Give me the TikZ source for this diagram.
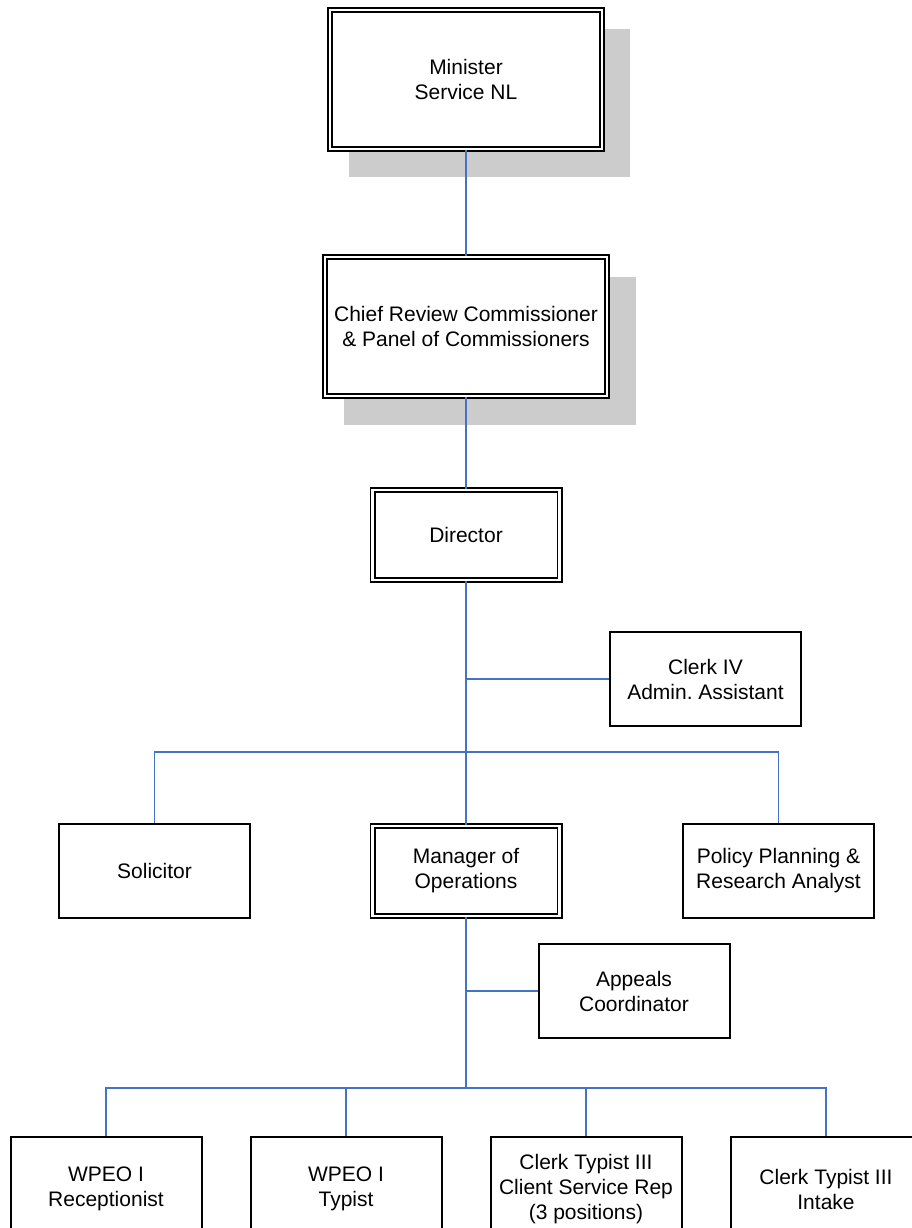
\documentclass[tikz,border=0pt]{standalone}
\usepackage{fontspec}
\setmainfont{Liberation Sans}
\usetikzlibrary{backgrounds}
\definecolor{conn}{HTML}{4472C4}
\definecolor{shadowgray}{HTML}{CCCCCC}
\frenchspacing
\begin{document}
\begin{tikzpicture}[x=1pt,y=-1pt,
  every node/.style={font=\fontsize{21}{25}\selectfont, align=center, inner sep=0pt},
  sbox/.style={draw=black, line width=2pt, fill=white, minimum width=191pt, minimum height=94pt},
  lowbox/.style={sbox, minimum height=104pt},
  dbox/.style={draw=black, line width=1.75pt, double=white, double distance=2.5pt, fill=white},
  link/.style={draw=conn, line width=1.5pt}]
\clip (0,0) rectangle (912,1228);
\useasboundingbox (0,0) rectangle (912,1228);

\node[dbox, minimum width=272pt, minimum height=139pt] (min) at (466,79.5) {Minister\\Service NL};
\node[dbox, minimum width=282pt, minimum height=139pt] (chief) at (466,326.5) {Chief Review Commissioner\\\& Panel of Commissioners};
\node[dbox, minimum width=187pt, minimum height=90pt] (dir) at (466,535) {Director};
\node[sbox] (clk) at (705.5,679) {Clerk IV\\Admin. Assistant};
\node[sbox] (sol) at (154.5,871) {Solicitor};
\node[dbox, minimum width=187pt, minimum height=90pt] (man) at (466,871) {Manager of\\Operations};
\node[sbox] (pol) at (778.5,871) {Policy Planning \&\\Research Analyst};
\node[sbox] (app) at (634,991) {Appeals\\Coordinator};
\node[lowbox] (b1) at (106,1189) {WPEO I\\Receptionist};
\node[lowbox] (b2) at (346,1189) {WPEO I\\Typist};
\node[lowbox] (b3) at (586,1189) {Clerk Typist III\\Client Service Rep\\(3 positions)};
\node[lowbox] (b4) at (826,1189) {Clerk Typist III\\Intake};

\begin{pgfonlayer}{background}
\fill[shadowgray] ([shift={(20pt,-27pt)}]min.south west) rectangle ([shift={(27pt,-20pt)}]min.north east);
\fill[shadowgray] ([shift={(20pt,-28pt)}]chief.south west) rectangle ([shift={(28pt,-21pt)}]chief.north east);
\end{pgfonlayer}

\coordinate (j1) at (466,679);
\coordinate (bus1) at (466,752);
\coordinate (j2) at (466,991);
\coordinate (bus2) at (466,1088);

\draw[link] (min.south) -- (chief.north);
\draw[link] (chief.south) -- (dir.north);
\draw[link] (dir.south) -- (man.north);
\draw[link] (j1) -- (clk.west);
\draw[link] (sol.north) |- (bus1) -| (pol.north);
\draw[link] (man.south) -- (bus2);
\draw[link] (j2) -- (app.west);
\draw[link] (b1.north) |- (bus2) -| (b4.north);
\draw[link] (b2.north) -- (b2.north |- bus2);
\draw[link] (b3.north) -- (b3.north |- bus2);
\end{tikzpicture}
\end{document}
